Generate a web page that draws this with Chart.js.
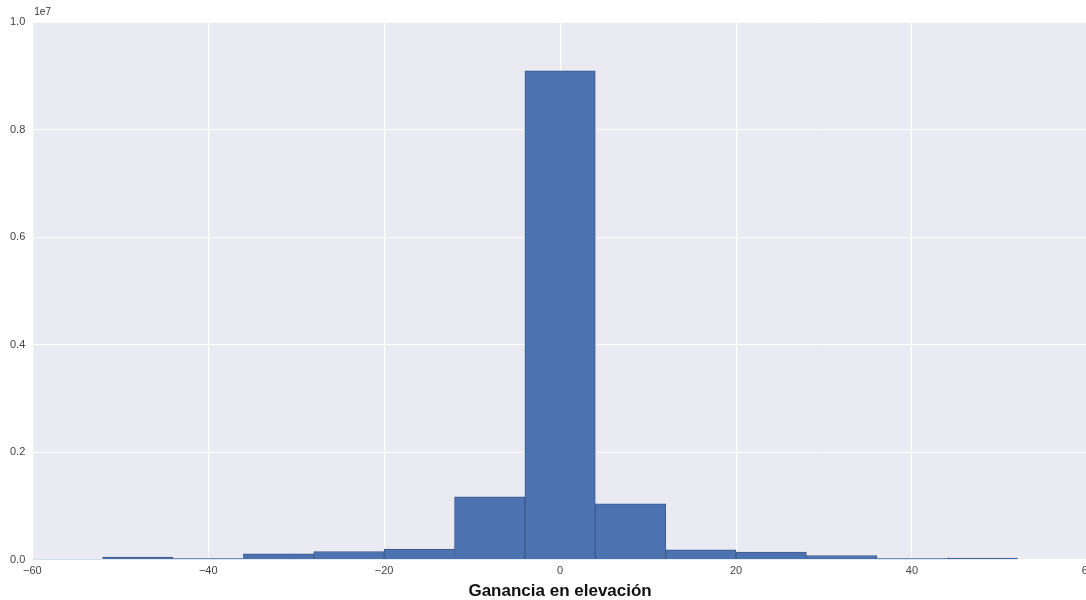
<!DOCTYPE html>
<html>
<head>
<meta charset="utf-8">
<script src="https://cdn.jsdelivr.net/npm/chart.js@4"></script>
<style>
  html, body { margin: 0; padding: 0; background: #fff; overflow: hidden; }
  #wrap { width: 1099px; height: 600px; }
</style>
</head>
<body>
<div id="wrap"><canvas id="histChart"></canvas></div>
<script>
// bin centres (width 8) and counts
const binCenters = [-56, -48, -40, -32, -24, -16, -8, 0, 8, 16, 24, 32, 40, 48];
const binCounts = [10000, 50000, 25000, 112000, 154000, 199000, 1170000, 9090000, 1040000, 186000, 143000, 80000, 25000, 30000];
const xTicks = [-60, -40, -20, 0, 20, 40, 60];
const yTicks = [0, 0.2e7, 0.4e7, 0.6e7, 0.8e7, 1.0e7];

const plotBg = {
  id: 'plotBg',
  beforeDraw(chart) {
    const { ctx, chartArea: a } = chart;
    ctx.save();
    ctx.fillStyle = '#eaeaf2';
    ctx.fillRect(a.left, a.top, a.right - a.left, a.bottom - a.top);
    ctx.restore();
  },
  afterDraw(chart) {
    const { ctx, chartArea: a } = chart;
    ctx.save();
    ctx.fillStyle = '#333';
    ctx.font = '10px "Liberation Sans", Arial, sans-serif';
    ctx.textBaseline = 'bottom';
    ctx.fillText('1e7', a.left + 2, a.top - 5);
    ctx.restore();
  }
};

window.addEventListener('DOMContentLoaded', () => {
  const ctx = document.getElementById('histChart');
  new Chart(ctx, {
    type: 'bar',
    data: {
      datasets: [{
        data: binCenters.map((c, i) => ({ x: c, y: binCounts[i] })),
        backgroundColor: '#4c72b0',
        borderColor: '#3b5a8c',
        borderWidth: 1,
        barPercentage: 1.0,
        categoryPercentage: 1.0
      }]
    },
    options: {
      responsive: true,
      maintainAspectRatio: false,
      animation: false,
      layout: { padding: { top: 22, left: 3, right: 0, bottom: 0 } },
      plugins: {
        legend: { display: false },
        tooltip: { enabled: false }
      },
      scales: {
        x: {
          type: 'linear',
          offset: false,
          min: -60,
          max: 60,
          afterBuildTicks: (axis) => { axis.ticks = xTicks.map(v => ({ value: v })); },
          grid: { color: '#ffffff', lineWidth: 1, drawTicks: false, offset: false },
          border: { display: false },
          ticks: {
            color: '#444',
            padding: 5,
            font: { family: '"Liberation Sans", Arial, sans-serif', size: 11 },
            maxRotation: 0,
            callback: (v) => String(v).replace('-', '\u2212')
          },
          title: {
            display: true,
            text: 'Ganancia en elevación',
            color: '#111',
            padding: { top: 0, bottom: 0 },
            font: { family: '"Liberation Sans", Arial, sans-serif', size: 17, weight: 'bold', lineHeight: 1 }
          }
        },
        y: {
          min: 0,
          max: 1e7,
          afterBuildTicks: (axis) => { axis.ticks = yTicks.map(v => ({ value: v })); },
          grid: { color: '#ffffff', lineWidth: 1, drawTicks: false },
          border: { display: false },
          ticks: {
            color: '#444',
            padding: 7,
            font: { family: '"Liberation Sans", Arial, sans-serif', size: 11 },
            callback: (v) => (v / 1e7).toFixed(1)
          }
        }
      }
    },
    plugins: [plotBg]
  });
});
</script>
</body>
</html>
